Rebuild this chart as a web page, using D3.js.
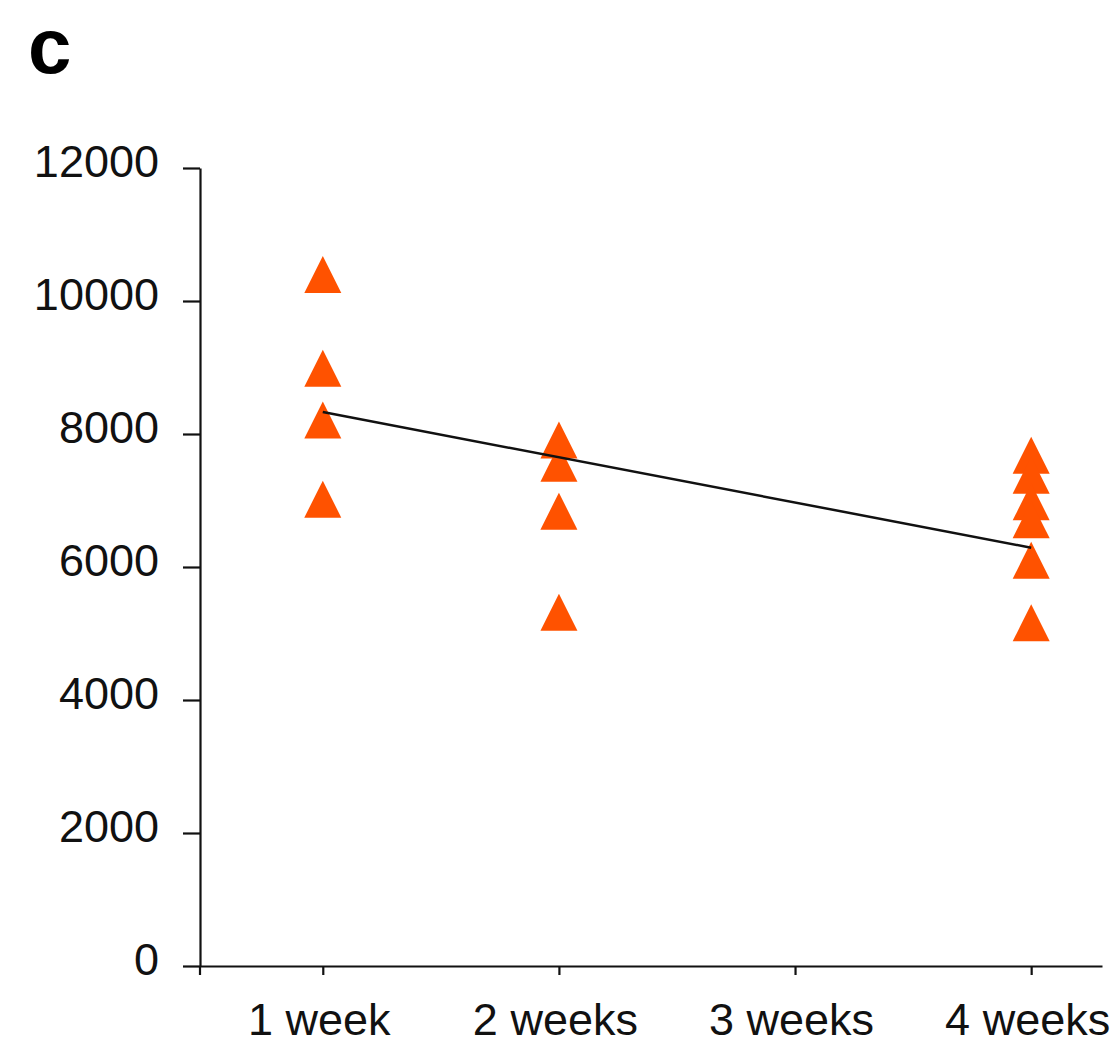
<!DOCTYPE html>
<html>
<head>
<meta charset="utf-8">
<script src="https://cdn.jsdelivr.net/npm/d3@7"></script>
<style>
  body { margin: 0; background: #fff; }
  text { font-family: "Liberation Sans", Arial, sans-serif; fill: #111; }
</style>
</head>
<body>
<div class="chart"></div>
<script>
// categories and tick labels
const weeks = [1, 2, 3, 4];
const weekLabels = ["1 week", "2 weeks", "3 weeks", "4 weeks"];
const yTicks = [0, 2000, 4000, 6000, 8000, 10000, 12000];

// measured values per time point
const week1 = [10400, 8990, 8210, 7020];
const week2 = [7910, 7560, 6840, 5320];
const week4 = [7680, 7380, 6980, 6710, 6100, 5160];

// trend line end points (week, value)
const trend = [[1, 8330], [4, 6290]];

const points = []
week1.forEach(v => points.push({week: 1, value: v}))
week2.forEach(v => points.push({week: 2, value: v}))
week4.forEach(v => points.push({week: 4, value: v}))

const width = 1118;
const height = 1050;

const svg = d3.select('.chart')
  .append('svg')
  .attr('width', width)
  .attr('height', height)

const x = d3.scaleLinear().domain([0.48, 4.3]).range([200, 1102]);
const y = d3.scaleLinear().domain([0, 12000]).range([966, 168]);

// panel letter
svg.append("text")
  .attr("x", 28)
  .attr("y", 73)
  .attr("font-size", 78)
  .attr("font-weight", "bold")
  .style("fill", "#000")
  .text("c")

// y axis
const yAxis = svg.append("g")
  .attr("transform", "translate(" + x(0.48) + ",0)")
  .call(d3.axisLeft(y).tickValues(yTicks).tickSize(17).tickPadding(24).tickSizeOuter(0).tickFormat(d3.format("d")))
yAxis.select(".domain").attr("stroke", "#111").attr("stroke-width", 2.2)
yAxis.selectAll(".tick line").attr("stroke", "#111").attr("stroke-width", 2.2)
yAxis.selectAll(".tick text")
  .attr("font-size", 45)
  .attr("font-family", "Liberation Sans, Arial, sans-serif")
  .attr("dy", 8)
  .style("fill", "#111")

// x axis
const xAxis = svg.append("g")
  .attr("transform", "translate(0," + y(0) + ")")
  .call(d3.axisBottom(x).tickValues(weeks).tickSize(9).tickPadding(28).tickSizeOuter(0)
    .tickFormat((d, i) => weekLabels[i]))
xAxis.select(".domain").attr("stroke", "#111").attr("stroke-width", 2.2)
xAxis.selectAll(".tick line").attr("stroke", "#111").attr("stroke-width", 2.2)
xAxis.selectAll(".tick text")
  .attr("font-size", 45)
  .attr("font-family", "Liberation Sans, Arial, sans-serif")
  .attr("dy", "0.72em")
  .attr("dx", -4)
  .style("fill", "#111")
// small tick at the axis origin
svg.append("line")
  .attr("x1", x(0.48)).attr("x2", x(0.48))
  .attr("y1", y(0)).attr("y2", y(0) + 9)
  .attr("stroke", "#111").attr("stroke-width", 2.2)

// triangles
const tw = 37, th = 37;
svg.selectAll("path.pt")
  .data(points)
  .enter()
  .append("path")
  .attr("class", "pt")
  .attr("d", d => {
    const cx = x(d.week), cy = y(d.value);
    return "M" + cx + "," + (cy - th / 2) + "L" + (cx + tw / 2) + "," + (cy + th / 2) + "L" + (cx - tw / 2) + "," + (cy + th / 2) + "Z";
  })
  .attr("fill", "#ff5200")

// trend line
svg.append("path")
  .datum(trend)
  .attr("d", d3.line().x(d => x(d[0])).y(d => y(d[1])))
  .attr("fill", "none")
  .attr("stroke", "#111")
  .attr("stroke-width", 2.5)
</script>
</body>
</html>
